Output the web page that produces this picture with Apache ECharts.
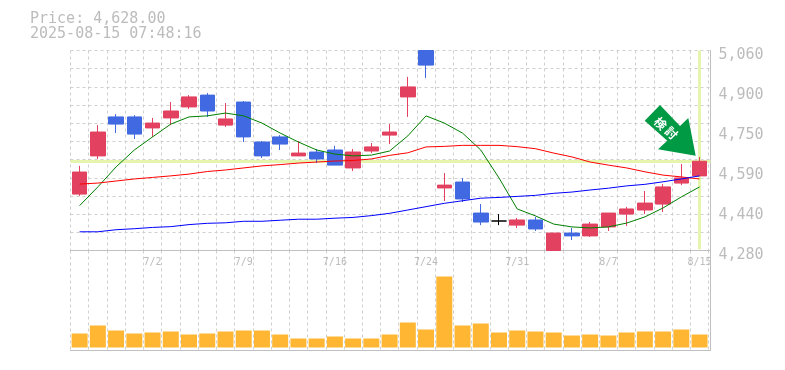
<!DOCTYPE html>
<html><head><meta charset="utf-8">
<style>html,body{margin:0;padding:0;background:#fff}#c{width:785px;height:370px}</style>
<script src="https://cdn.jsdelivr.net/npm/echarts@6/dist/echarts.min.js"></script>
</head><body><div id="c"></div>
<script>
const dates=['6/26','6/27','6/30','7/1','7/2','7/3','7/4','7/7','7/8','7/9','7/10','7/11','7/14','7/15','7/16','7/17','7/18','7/22','7/23','7/24','7/25','7/28','7/29','7/30','7/31','8/1','8/4','8/5','8/6','8/7','8/8','8/12','8/13','8/14','8/15'];
const shownDates=['7/2','7/9','7/16','7/24','7/31','8/7','8/15'];
const opens=[4500,4649,4801,4801,4758,4797,4840,4886,4769,4859,4703,4723,4649,4664,4672,4602,4668,4730,4879,5060,4524,4547,4426,4395,4379,4399,4280,4348,4337,4372,4422,4438,4461,4543,4571];
const closes=[4586,4742,4773,4734,4777,4824,4879,4824,4793,4723,4649,4695,4660,4637,4613,4664,4684,4742,4918,5003,4535,4481,4391,4395,4399,4364,4348,4337,4383,4426,4442,4465,4528,4563,4628];
const lows=[4493,4637,4738,4715,4723,4769,4832,4801,4762,4703,4641,4672,4649,4621,4613,4590,4660,4695,4801,4953,4473,4469,4379,4379,4368,4356,4280,4321,4333,4356,4376,4422,4430,4535,4571];
const highs=[4610,4769,4812,4808,4797,4859,4886,4894,4855,4863,4707,4730,4707,4676,4688,4676,4699,4773,4957,5060,4582,4563,4461,4422,4407,4411,4348,4368,4391,4426,4450,4512,4539,4617,4645];
const maShort=[4455,4528,4606,4672,4723,4773,4801,4805,4816,4805,4777,4738,4703,4672,4656,4649,4652,4668,4727,4805,4777,4738,4672,4563,4442,4415,4383,4372,4368,4372,4387,4411,4446,4489,4528];
const maMid=[4539,4543,4551,4559,4565,4571,4578,4588,4594,4602,4610,4615,4621,4625,4629,4631,4637,4651,4661,4684,4686,4690,4690,4690,4685,4677,4660,4645,4625,4613,4602,4587,4574,4567,4559];
const maLong=[4353,4353,4361,4365,4370,4373,4381,4386,4388,4394,4394,4398,4402,4402,4406,4409,4416,4425,4438,4451,4464,4474,4484,4487,4491,4495,4503,4508,4516,4523,4532,4538,4548,4559,4571];
const volumes=[14,22,17,14,15,16,13,14,16,17,17,13,9,9,11,9,9,13,25,18,71,22,24,15,17,16,15,12,13,12,15,16,16,18,13];
const priceTicks=[4280,4436,4592,4748,4904,5060];
const lastPrice=4628;
const priceText='Price: 4,628.00';
const stampText='2025-08-15 07:48:16';
const arrowText=['検','討'];

const GREY='#bcbcbc',AXIS='#c0c0c0',GRID='#cfcfcf',MONO='"DejaVu Sans Mono",monospace',HILITE='#e6f5ae';
const PMIN=4280,PMAX=5060,XMAX=35.1;
const pos=i=>i+0.5;
const pairs=a=>a.map((v,i)=>[pos(i),v]);
const chart=echarts.init(document.getElementById('c'),null,{renderer:'canvas'});
const lineS=(name,vals,color)=>({type:'line',name,data:pairs(vals),showSymbol:false,symbol:'none',smooth:false,z:4,lineStyle:{color,width:1},xAxisIndex:0,yAxisIndex:0,silent:true});
chart.setOption({
  animation:false,backgroundColor:'#fff',
  grid:[{left:70.5,top:50.5,width:640,height:200},{left:70.5,top:250.5,width:640,height:100}],
  xAxis:[
    {type:'value',gridIndex:0,min:0,max:XMAX,interval:1,
      axisLine:{show:true,onZero:false,lineStyle:{color:AXIS,width:1}},axisTick:{show:false},
      axisLabel:{show:false},splitLine:{show:true,lineStyle:{color:GRID,type:[3,3]}}},
    {type:'value',gridIndex:1,min:0,max:XMAX,interval:1,
      axisLine:{show:true,onZero:false,lineStyle:{color:AXIS,width:1}},axisTick:{show:false},
      axisLabel:{show:false},splitLine:{show:true,lineStyle:{color:GRID,type:[3,3]}}},
    {type:'value',gridIndex:0,min:0,max:XMAX,position:'bottom',
      axisLine:{show:false},axisTick:{show:false},splitLine:{show:false},
      axisLabel:{show:true,color:GREY,fontFamily:MONO,fontSize:10,margin:7,showMinLabel:true,showMaxLabel:true,hideOverlap:false,
        customValues:shownDates.map(d=>pos(dates.indexOf(d))),
        formatter:v=>dates[Math.round(v-0.5)]}}
  ],
  yAxis:[
    {type:'value',gridIndex:0,position:'right',min:PMIN,max:PMAX,
      axisLine:{show:true,onZero:false,lineStyle:{color:AXIS,width:1}},
      axisTick:{show:false},splitLine:{show:false},
      axisLabel:{color:GREY,fontFamily:MONO,fontSize:15,margin:8,verticalAlign:'top',padding:[-3,0,0,0],
        customValues:priceTicks,formatter:v=>(Math.round(v/10)*10).toLocaleString('en-US')}},
    {type:'value',gridIndex:0,position:'left',min:0,max:11,interval:1,
      axisLine:{show:false},axisTick:{show:false},axisLabel:{show:false},
      splitLine:{show:true,lineStyle:{color:GRID,type:[3,3]}}},
    {type:'value',gridIndex:1,position:'right',min:-3,max:97,
      axisLine:{show:true,onZero:false,lineStyle:{color:AXIS,width:1}},
      axisTick:{show:false},axisLabel:{show:false},splitLine:{show:false}}
  ],
  series:[
    {type:'line',data:[],xAxisIndex:0,yAxisIndex:0,z:1,silent:true,symbol:'none',
      markLine:{silent:true,symbol:'none',animation:false,label:{show:false},z:1,
        lineStyle:{color:HILITE,width:3,type:'solid'},
        data:[[{coord:[0,lastPrice]},{coord:[XMAX,lastPrice]}],
              [{coord:[pos(34),PMAX]},{coord:[pos(34),PMIN+5]}]]}},
    {type:'candlestick',name:'Price',xAxisIndex:0,yAxisIndex:0,z:3,barWidth:15,silent:true,
      data:dates.map((d,i)=>[pos(i),opens[i],closes[i],lows[i],highs[i]]),
      itemStyle:{color:'#e2415f',color0:'#4169e1',borderColor:'#e2415f',borderColor0:'#4169e1',borderColorDoji:'#000',borderWidth:1}},
    lineS('MA short',maShort,'#008000'),
    lineS('MA mid',maMid,'#ff0000'),
    lineS('MA long',maLong,'#0000ff'),
    {type:'bar',name:'Volume',xAxisIndex:1,yAxisIndex:2,barWidth:16,silent:true,
      data:pairs(volumes),itemStyle:{color:'#ffb733'}}
  ],
  graphic:[
    {type:'text',left:30,top:12,style:{text:priceText,fill:GREY,font:'15px '+MONO}},
    {type:'text',left:30,top:27,style:{text:stampText,fill:GREY,font:'15px '+MONO}},
    {type:'polygon',z:20,shape:{points:[[660,105],[644.7,120.7],[667.3,140.7],[658,149.3],[695.7,155.7],[688.3,118],[680,126]]},style:{fill:'#009944'}},
    {type:'text',z:21,x:660.5,y:123.5,rotation:-Math.PI/4,style:{text:arrowText[0],fill:'#fff',font:'bold 12px "Noto Sans CJK JP"',align:'center',verticalAlign:'middle'}},
    {type:'text',z:21,x:671.5,y:133,rotation:-Math.PI/4,style:{text:arrowText[1],fill:'#fff',font:'bold 12px "Noto Sans CJK JP"',align:'center',verticalAlign:'middle'}}
  ]
});
</script></body></html>
